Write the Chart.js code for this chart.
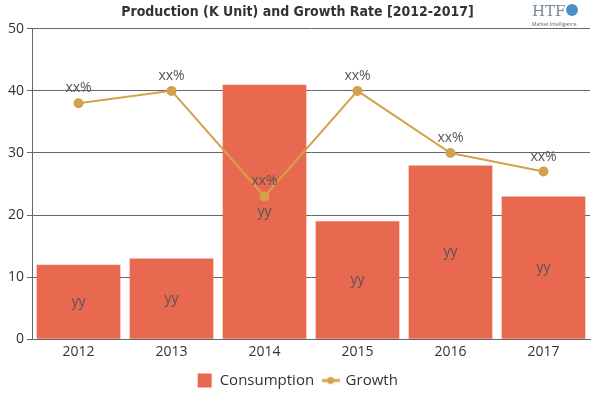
<html>
<head>
<style>
  body { margin: 0; background: #fff; }
  #wrap { width: 600px; height: 400px; }
</style>
</head>
<body>
<div id="wrap">
  <canvas id="prodChart" width="600" height="400"></canvas>
</div>

<script src="https://cdn.jsdelivr.net/npm/chart.js"></script>

<script>

const years = ['2012', '2013', '2014', '2015', '2016', '2017'];
const consumption = [12, 13, 41, 19, 28, 23];
const growth = [38, 40, 23, 40, 30, 27];
const barLabels = ['yy', 'yy', 'yy', 'yy', 'yy', 'yy'];
const lineLabels = ['xx%', 'xx%', 'xx%', 'xx%', 'xx%', 'xx%'];

const barColor = '#E8694F';
const lineColor = '#D4A24C';
const font = "'Open Sans', 'Noto Sans', sans-serif";

// little line-with-dot icon for the legend
const growthIcon = document.createElement('canvas');
growthIcon.width = 18;
growthIcon.height = 10;
(function () {
  const g = growthIcon.getContext('2d');
  g.strokeStyle = lineColor;
  g.lineWidth = 3;
  g.beginPath(); g.moveTo(0, 5); g.lineTo(18, 5); g.stroke();
  g.fillStyle = lineColor;
  g.beginPath(); g.arc(9, 5, 3.5, 0, Math.PI * 2); g.fill();
})();

// draws yy / xx% labels and the logo text
const labelPlugin = {
  id: 'labels',
  afterDatasetsDraw(chart) {
    const ctx = chart.ctx;
    ctx.save();
    ctx.font = '14px ' + font;
    ctx.fillStyle = '#555';
    ctx.textAlign = 'center';
    ctx.textBaseline = 'middle';
    chart.getDatasetMeta(0).data.forEach((bar, i) => {
      ctx.fillText(barLabels[i], bar.x, (bar.y + bar.base) / 2);
    });
    chart.getDatasetMeta(1).data.forEach((pt, i) => {
      ctx.fillText(lineLabels[i], pt.x, pt.y - 15);
    });

    // HTF logo
    ctx.fillStyle = '#7a8797';
    ctx.font = '15px ' + "'DejaVu Serif', serif";
    ctx.textAlign = 'left';
    ctx.fillText('HTF', 532, 12);
    ctx.fillStyle = '#4a90c8';
    ctx.beginPath(); ctx.arc(572, 10, 6, 0, Math.PI * 2); ctx.fill();
    ctx.fillStyle = '#666';
    ctx.font = '5px ' + font;
    ctx.fillText('Market Intelligence', 532, 25);
    ctx.restore();
  }
};

new Chart(document.getElementById('prodChart'), {
  type: 'bar',
  data: {
    labels: years,
    datasets: [{
      type: 'bar',
      label: 'Consumption',
      data: consumption,
      backgroundColor: barColor,
      categoryPercentage: 0.9,
      barPercentage: 1.0,
      order: 1
    }, {
      type: 'line',
      label: 'Growth',
      data: growth,
      borderColor: lineColor,
      backgroundColor: lineColor,
      borderWidth: 2,
      pointRadius: 4,
      pointHoverRadius: 4,
      tension: 0,
      order: 0
    }]
  },
  options: {
    responsive: false,
    animation: false,
    layout: { padding: { left: 5, right: 10, top: 0, bottom: 2 } },
    plugins: {
      title: {
        display: true,
        text: 'Production (K Unit) and Growth Rate [2012-2017]',
        color: '#333',
        font: { family: "'DejaVu Sans Condensed', 'DejaVu Sans', sans-serif", size: 14, weight: 'bold' },
        padding: { top: 4, bottom: 8 }
      },
      legend: {
        position: 'bottom',
        labels: {
          color: '#333',
          font: { family: font, size: 15 },
          usePointStyle: true,
          boxHeight: 14,
          padding: 9,
          generateLabels(chart) {
            return [
              { text: 'Consumption', fillStyle: barColor, strokeStyle: barColor, lineWidth: 0, pointStyle: 'rect', datasetIndex: 0, fontColor: '#333' },
              { text: 'Growth', fillStyle: lineColor, strokeStyle: lineColor, lineWidth: 0, pointStyle: growthIcon, datasetIndex: 1, fontColor: '#333' }
            ];
          }
        }
      },
      tooltip: { enabled: false }
    },
    scales: {
      x: {
        grid: { display: false, drawTicks: false },
        border: { color: '#666' },
        ticks: { color: '#333', font: { family: font, size: 14 }, padding: 4 }
      },
      y: {
        min: 0,
        max: 50,
        ticks: { stepSize: 10, color: '#333', font: { family: font, size: 14 }, padding: 3 },
        grid: { color: '#666', tickLength: 5 },
        border: { color: '#666' }
      }
    }
  },
  plugins: [labelPlugin]
});

</script>

</body>
</html>
